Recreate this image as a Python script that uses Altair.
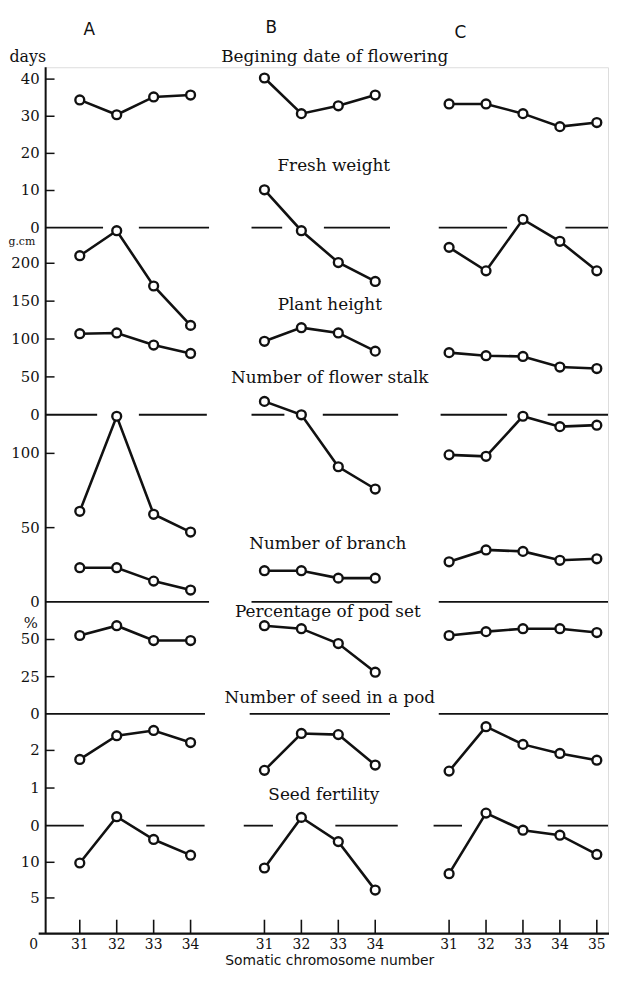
import altair as alt
import pandas as pd

# ---------------- data ----------------
chrom_A = [31, 32, 33, 34]
chrom_B = [31, 32, 33, 34]
chrom_C = [31, 32, 33, 34, 35]

flower_A = [34.4, 30.4, 35.2, 35.7]
flower_B = [40.3, 30.7, 32.8, 35.7]
flower_C = [33.3, 33.3, 30.7, 27.2, 28.3]

fresh_A = [210, 243, 170, 118]
fresh_B = [297, 243, 201, 176]
fresh_C = [221, 190, 258, 229, 190]

height_A = [107, 108, 92, 81]
height_B = [97, 115, 108, 84]
height_C = [82, 78, 77, 63, 61]

stalk_A = [61, 125, 59, 47]
stalk_B = [135, 126, 91, 76]
stalk_C = [99, 98, 125, 118, 119]

branch_A = [23, 23, 14, 8]
branch_B = [21, 21, 16, 16]
branch_C = [27, 35, 34, 28, 29]

podset_A = [52.7, 59.3, 49.3, 49.3]
podset_B = [59.3, 57.3, 47.3, 28.0]
podset_C = [52.7, 55.3, 57.3, 57.3, 54.7]

seed_A = [1.76, 2.39, 2.53, 2.21]
seed_B = [1.47, 2.45, 2.42, 1.61]
seed_C = [1.45, 2.63, 2.16, 1.92, 1.74]

fert_A = [9.9, 16.4, 13.2, 11.0]
fert_B = [9.2, 16.3, 12.9, 6.1]
fert_C = [8.4, 16.9, 14.5, 13.8, 11.1]

series_titles = {
    "flower": "Begining date of flowering",
    "fresh": "Fresh weight",
    "height": "Plant height",
    "stalk": "Number of flower stalk",
    "branch": "Number of branch",
    "podset": "Percentage of pod set",
    "seed": "Number of seed in a pod",
    "fert": "Seed fertility",
}
column_labels = ["A", "B", "C"]
x_title = "Somatic chromosome number"

# y-axis ticks / labels of every stacked scale
tick_vals = {"days": [10, 20, 30, 40], "gcm": [50, 100, 150, 200], "count": [50, 100],
             "pct": [25, 50], "seed": [1, 2], "fert": [5, 10]}
label_vals = {"days": [0, 10, 20, 30, 40], "gcm": [0, 50, 100, 150, 200], "count": [0, 50, 100],
              "pct": [0, 25, 50], "seed": [0, 1, 2], "fert": [5, 10]}

# broken zero lines (x in position units of the common axis)
X_MIN, X_MAX = -0.925, 14.303
zero_segments = {
    "days": [(X_MIN, 0.63), (1.60, 3.50), (4.65, 5.48), (6.61, 8.40), (9.72, 11.57), (13.15, X_MAX)],
    "gcm": [(X_MIN, 0.47), (1.60, 3.44), (4.65, 5.54), (6.58, 8.62), (9.77, 11.57), (12.67, X_MAX)],
    "count": [(X_MIN, 3.50), (4.65, 8.46), (9.72, X_MAX)],
    "pct": [(X_MIN, 3.39), (4.60, 8.40), (9.72, X_MAX)],
    "seed": [(X_MIN, 0.11), (1.80, 3.38), (4.44, 5.23), (6.92, 8.61), (9.58, 10.35), (12.67, X_MAX)],
}

# ---------------- layout ----------------
LEFT_COL = 46                       # page column of the y axis
TOP_ROW, BOT_ROW = 63, 938          # page rows of plot top / bottom
W, H = 568, BOT_ROW - TOP_ROW
PAD = {"left": LEFT_COL - 8, "top": TOP_ROW - 8, "right": 1, "bottom": 36}
group_offset = {"A": 0, "B": 5, "C": 10}
# (page row of value 0, pixels per unit) for each stacked scale
scale_layout = {"days": (225, 3.75), "gcm": (414, 0.765), "count": (603, 1.5),
                "pct": (716, 1.5), "seed": (829, 38.0), "fert": (938, 7.2)}
series_scale = {"flower": "days", "fresh": "gcm", "height": "gcm", "stalk": "count",
                "branch": "count", "podset": "pct", "seed": "seed", "fert": "fert"}

def ydomain(s):
    p0, k = scale_layout[s]
    return [(p0 - BOT_ROW) / k, (p0 - TOP_ROW) / k]

INK = "#111111"
SERIF = "DejaVu Serif"
SANS = "DejaVu Sans"

# ---------------- build tables ----------------
series_data = {
    "flower": (flower_A, flower_B, flower_C), "fresh": (fresh_A, fresh_B, fresh_C),
    "height": (height_A, height_B, height_C), "stalk": (stalk_A, stalk_B, stalk_C),
    "branch": (branch_A, branch_B, branch_C), "podset": (podset_A, podset_B, podset_C),
    "seed": (seed_A, seed_B, seed_C), "fert": (fert_A, fert_B, fert_C),
}
chroms = {"A": chrom_A, "B": chrom_B, "C": chrom_C}
rows = []
for ser, vals in series_data.items():
    for g, vv in zip("ABC", vals):
        for c, v in zip(chroms[g], vv):
            rows.append({"scale": series_scale[ser], "series": ser, "group": g,
                         "key": ser + g, "chrom": c,
                         "pos": group_offset[g] + c - 31, "v": v})
df = pd.DataFrame(rows)

xscale = alt.Scale(domain=[X_MIN, X_MAX], nice=False, zero=False)

def group_layer(s):
    ysc = alt.Scale(domain=ydomain(s), nice=False, zero=False)
    xs = alt.X("pos:Q", scale=xscale, axis=None)
    ys = alt.Y("v:Q", scale=ysc, axis=None)
    d = df[df.scale == s]
    layers = []
    if s in zero_segments:
        seg = pd.DataFrame([{"x1": a, "x2": b, "v": 0} for a, b in zero_segments[s]])
        layers.append(alt.Chart(seg).mark_rule(color=INK, strokeWidth=1.8).encode(
            x=alt.X("x1:Q", scale=xscale, axis=None), x2="x2:Q", y=ys))
    layers.append(alt.Chart(d).mark_line(color=INK, strokeWidth=2.6).encode(
        x=xs, y=ys, detail="key:N"))
    layers.append(alt.Chart(d).mark_point(shape="circle", fill="white", fillOpacity=1,
                                          stroke=INK, strokeWidth=2.4, size=80, opacity=1).encode(x=xs, y=ys))
    tk = pd.DataFrame({"v": tick_vals[s]})
    layers.append(alt.Chart(tk).mark_rule(color=INK, strokeWidth=1.5).encode(
        x=alt.value(0), x2=alt.value(9), y=ys))
    lb = pd.DataFrame({"v": label_vals[s], "lab": [str(v) for v in label_vals[s]]})
    layers.append(alt.Chart(lb).mark_text(align="right", baseline="middle", font=SERIF,
                                          fontSize=15, color=INK).encode(
        x=alt.value(-6), y=ys, text="lab:N"))
    return alt.layer(*layers)

groups = [group_layer(s) for s in ["days", "gcm", "count", "pct", "seed", "fert"]]

# axis lines
one = pd.DataFrame({"a": [0]})
yaxis_line = alt.Chart(one).mark_rule(color=INK, strokeWidth=2).encode(
    x=alt.value(0), y=alt.value(0), y2=alt.value(H))
xaxis_line = alt.Chart(one).mark_rule(color=INK, strokeWidth=2.4).encode(
    x=alt.value(-7), x2=alt.value(W + 1), y=alt.value(H))

xt = df[df.series == "fert"][["pos", "chrom"]].copy()
xt["lab"] = xt["chrom"].astype(str)
xticks = alt.Chart(xt).mark_rule(color=INK, strokeWidth=1.6).encode(
    x=alt.X("pos:Q", scale=xscale, axis=None), y=alt.value(H - 14), y2=alt.value(H))
xlabels = alt.Chart(xt).mark_text(font=SERIF, fontSize=14, color=INK, baseline="middle").encode(
    x=alt.X("pos:Q", scale=xscale, axis=None), y=alt.value(H + 12), text="lab:N")

# text annotations in page coordinates: (text, x, y, font, size)
notes = [
    (column_labels[0], 90, 25, SANS, 17), (column_labels[1], 274, 23, SANS, 17),
    (column_labels[2], 465, 28, SANS, 17),
    ("days", 28, 53, SERIF, 16),
    (series_titles["flower"], 338, 53, SERIF, 17),
    (series_titles["fresh"], 337, 163, SERIF, 17),
    (series_titles["height"], 333, 303, SERIF, 17),
    (series_titles["stalk"], 333, 377, SERIF, 17),
    (series_titles["branch"], 331, 545, SERIF, 17),
    (series_titles["podset"], 331, 613, SERIF, 17),
    (series_titles["seed"], 333, 700, SERIF, 17),
    (series_titles["fert"], 327, 798, SERIF, 17),
    (x_title, 333, 966, SANS, 14),
    ("g.cm", 22, 240, SERIF, 11),
    ("%", 31, 624, SERIF, 15),
    ("0", 34, 950, SERIF, 14),
]
note_layers = [
    alt.Chart(one).mark_text(text=t, font=f, fontSize=fs, color=INK, baseline="middle", align="center").encode(
        x=alt.value(x - LEFT_COL), y=alt.value(y - TOP_ROW))
    for t, x, y, f, fs in notes
]

chart = alt.layer(
    yaxis_line, xaxis_line, *groups, xticks, xlabels, *note_layers
).resolve_scale(y="independent").properties(
    width=W, height=H, padding=PAD, autosize=alt.AutoSizeParams(type="none")
).configure_view(stroke=None).configure(background="white")

chart.save("out.html", embed_options={"renderer": "svg", "actions": False})
